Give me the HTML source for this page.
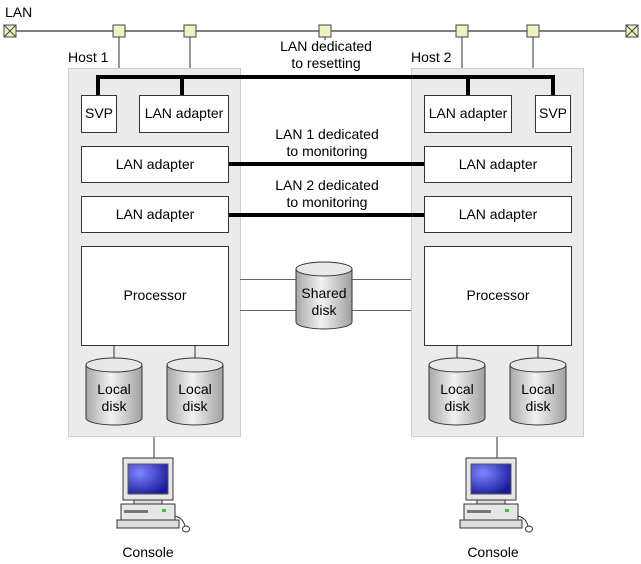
<!DOCTYPE html>
<html><head><style>body{margin:0;background:#fff}svg{display:block}text{font-family:"Liberation Sans",sans-serif;font-size:14px;fill:#000}</style></head><body>
<svg width="641" height="564" viewBox="0 0 641 564" xmlns="http://www.w3.org/2000/svg">
<defs>
<linearGradient id="cyl" x1="0" x2="1"><stop offset="0" stop-color="#a8a8a8"/><stop offset="0.45" stop-color="#f2f2f2"/><stop offset="1" stop-color="#a0a0a0"/></linearGradient>
<radialGradient id="scr" cx="0.3" cy="0.3" r="0.8"><stop offset="0" stop-color="#7d86ff"/><stop offset="1" stop-color="#1a1a9a"/></radialGradient>
<g id="disk"><path d="M-28,7 V60 A28,7 0 0 0 28,60 V7" fill="url(#cyl)" stroke="#333"/><ellipse cx="0" cy="7" rx="28" ry="7" fill="#e8e8e8" stroke="#333"/></g>
<g id="pc">
<rect x="-31" y="0" width="50" height="42" fill="#e6e6e6" stroke="#333"/>
<rect x="-26" y="6" width="40" height="30" fill="url(#scr)" stroke="#555"/>
<rect x="-20" y="42" width="28" height="4" fill="#ddd" stroke="#333"/>
<rect x="-33" y="46" width="54" height="16" fill="#e6e6e6" stroke="#333"/>
<rect x="-30" y="52" width="24" height="3" fill="#777"/>
<rect x="8" y="51" width="4" height="3" fill="#3c3"/>
<rect x="-37" y="62" width="62" height="8" fill="#ddd" stroke="#333"/>
<path d="M21,58 q8,2 10,10" fill="none" stroke="#333"/><ellipse cx="32" cy="71" rx="3.5" ry="3" fill="#fff" stroke="#333"/>
</g>
</defs>
<text x="5" y="17">LAN</text>
<line x1="16" y1="31" x2="628" y2="31" stroke="#000"/>
<g stroke="#333" stroke-width="1">
<line x1="119" y1="31" x2="119" y2="68"/><line x1="190" y1="31" x2="190" y2="68"/>
<line x1="325" y1="31" x2="325" y2="40"/>
<line x1="462" y1="31" x2="462" y2="68"/><line x1="533" y1="31" x2="533" y2="68"/>
</g>
<g fill="#f2f0c0" stroke="#444">
<rect x="113" y="25" width="12" height="12"/><rect x="184" y="25" width="12" height="12"/>
<rect x="319" y="25" width="12" height="12"/><rect x="456" y="25" width="12" height="12"/><rect x="527" y="25" width="12" height="12"/>
<rect x="4" y="25" width="12" height="12"/><rect x="626" y="25" width="12" height="12"/>
</g>
<path d="M4,25 L16,37 M16,25 L4,37 M626,25 L638,37 M638,25 L626,37" stroke="#444"/>
<text x="68" y="62">Host 1</text><text x="411" y="62">Host 2</text>
<rect x="68.5" y="68.5" width="172" height="368" fill="#ebebeb" stroke="#ccc"/>
<rect x="411.5" y="68.5" width="172" height="368" fill="#ebebeb" stroke="#ccc"/>
<text x="326" y="51" text-anchor="middle">LAN dedicated</text>
<text x="326" y="68" text-anchor="middle">to resetting</text>
<path d="M98,95 V77 H553 V95 M182,77 V95 M468,77 V95" fill="none" stroke="#000" stroke-width="4"/>
<g fill="#fff" stroke="#333">
<rect x="81.5" y="95.5" width="35" height="37"/><rect x="139.5" y="95.5" width="89" height="37"/>
<rect x="424.5" y="95.5" width="87" height="37"/><rect x="535.5" y="95.5" width="35" height="37"/>
<rect x="81.5" y="146.5" width="147" height="36"/><rect x="424.5" y="146.5" width="147" height="36"/>
<rect x="81.5" y="196.5" width="147" height="36"/><rect x="424.5" y="196.5" width="147" height="36"/>
<rect x="81.5" y="246.5" width="147" height="99"/><rect x="424.5" y="246.5" width="147" height="99"/>
</g>
<text x="99" y="118" text-anchor="middle">SVP</text><text x="184" y="118" text-anchor="middle">LAN adapter</text>
<text x="468" y="118" text-anchor="middle">LAN adapter</text><text x="553" y="118" text-anchor="middle">SVP</text>
<text x="155" y="169" text-anchor="middle">LAN adapter</text><text x="498" y="169" text-anchor="middle">LAN adapter</text>
<text x="155" y="219" text-anchor="middle">LAN adapter</text><text x="498" y="219" text-anchor="middle">LAN adapter</text>
<text x="155" y="300" text-anchor="middle">Processor</text><text x="498" y="300" text-anchor="middle">Processor</text>
<text x="327" y="139" text-anchor="middle">LAN 1 dedicated</text><text x="327" y="156" text-anchor="middle">to monitoring</text>
<text x="327" y="190" text-anchor="middle">LAN 2 dedicated</text><text x="327" y="207" text-anchor="middle">to monitoring</text>
<line x1="229" y1="164" x2="424" y2="164" stroke="#000" stroke-width="4"/>
<line x1="229" y1="215" x2="424" y2="215" stroke="#000" stroke-width="4"/>
<g stroke="#666"><line x1="240" y1="279.5" x2="411" y2="279.5"/><line x1="240" y1="310.5" x2="411" y2="310.5"/></g>
<use href="#disk" x="324" y="262"/>
<text x="324" y="298" text-anchor="middle">Shared</text><text x="324" y="315" text-anchor="middle">disk</text>
<g stroke="#333"><line x1="114" y1="346" x2="114" y2="360"/><line x1="195" y1="346" x2="195" y2="360"/><line x1="457" y1="346" x2="457" y2="360"/><line x1="538" y1="346" x2="538" y2="360"/>
<line x1="154" y1="437" x2="154" y2="458"/><line x1="497" y1="437" x2="497" y2="458"/></g>
<use href="#disk" x="114" y="358"/><use href="#disk" x="195" y="358"/><use href="#disk" x="457" y="358"/><use href="#disk" x="538" y="358"/>
<g text-anchor="middle">
<text x="114" y="394">Local</text><text x="114" y="411">disk</text>
<text x="195" y="394">Local</text><text x="195" y="411">disk</text>
<text x="457" y="394">Local</text><text x="457" y="411">disk</text>
<text x="538" y="394">Local</text><text x="538" y="411">disk</text>
</g>
<use href="#pc" x="154" y="458"/><use href="#pc" x="497" y="458"/>
<text x="148" y="557" text-anchor="middle">Console</text><text x="493" y="557" text-anchor="middle">Console</text>
</svg>
</body></html>
